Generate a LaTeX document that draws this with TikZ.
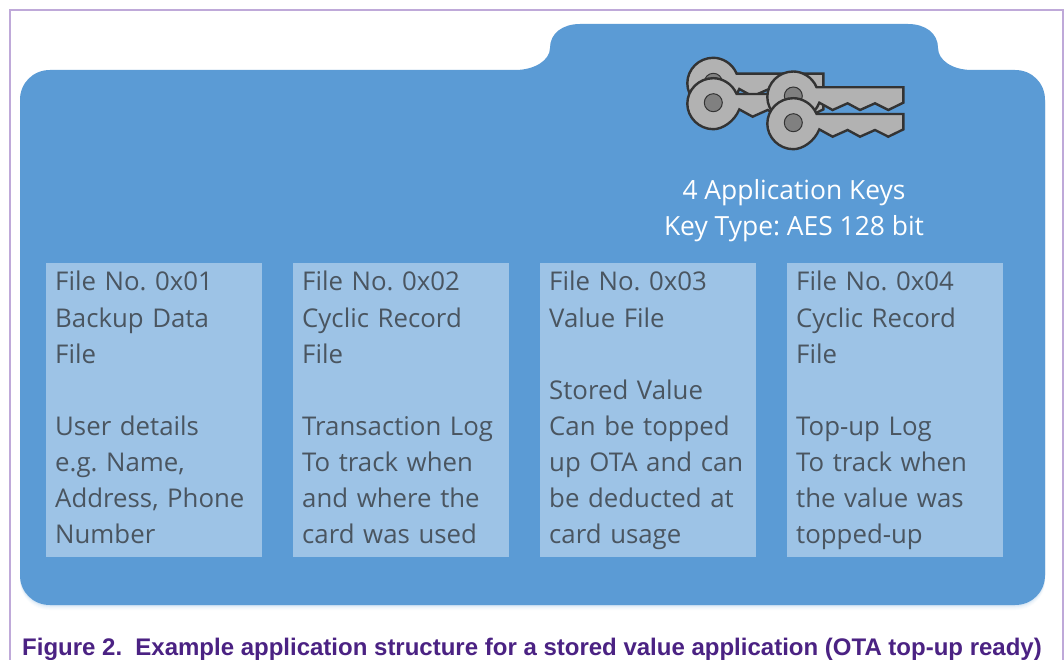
\documentclass[tikz,border=0pt]{standalone}
\usepackage{fontspec}
\setmainfont{Open Sans}
\newfontfamily\capfont{Liberation Sans}
\definecolor{framec}{HTML}{BFA9D9}
\definecolor{blueb}{HTML}{5B9BD5}
\definecolor{boxb}{HTML}{9DC3E6}
\definecolor{txtc}{HTML}{4A5560}
\definecolor{capc}{HTML}{4B2283}
\definecolor{keyf}{HTML}{B2B2B2}
\definecolor{keyl}{HTML}{333333}
\definecolor{keyh}{HTML}{808080}
\tikzset{
  x=1pt,y=-1pt,
  filebox/.style={anchor=north west,fill=boxb,text=txtc,minimum width=216,minimum height=294,
    text width=198,inner xsep=9,inner ysep=0,align=left,font=\frenchspacing\fontsize{25.8}{36.14}\selectfont},
  keypart/.style={draw=keyl,line width=2.4pt,line join=miter,fill=keyf},
  keyhole/.style={draw=keyl,line width=1pt,fill=keyh},
  pics/keyshape/.style={code={
    \path[keypart] (23.3,-8.7) -- (110,-8.7) -- (110,6.7) -- (95,14) -- (81.7,7.3) -- (66.7,14) -- (54.3,7.3)
      -- (39.3,14) -- (26,6.7) .. controls (21,19) and (9,26.5) .. (0,26.5)
      .. controls (-14.5,26.5) and (-26,14.5) .. (-26,1)
      .. controls (-26,-13) and (-14.5,-24.5) .. (0,-24.5)
      .. controls (9,-24.5) and (19,-19) .. (23.3,-8.7) -- cycle;
    \path[keyhole] (0,0) circle[radius=9];
  }}
}
\newcommand{\tabshape}{(20,100) .. controls (20,83) and (33,70) .. (50,70) -- (515,70)
  .. controls (535,70) and (550,60) .. (550,48) .. controls (550,33) and (563,24) .. (580,24) -- (908,24)
  .. controls (925,24) and (938,33) .. (938,48) .. controls (938,60) and (952,70) .. (972,70) -- (1015,70)
  .. controls (1032,70) and (1045,83) .. (1045,100) -- (1045,575)
  .. controls (1045,592) and (1032,605) .. (1015,605) -- (50,605)
  .. controls (33,605) and (20,592) .. (20,575) -- cycle}
\begin{document}
\begin{tikzpicture}
\useasboundingbox (0,0) rectangle (1064,660);
\fill[white] (0,0) rectangle (1064,660);
\draw[framec,line width=1.3pt] (10,660) -- (10,10) -- (1063,10) -- (1063,660);
\foreach \d/\c in {5/97,4/94,3/90,2/84,1/76}{
  \fill[shift={(0,\d)},white!\c!blueb] \tabshape;
}
\fill[blueb] \tabshape;
\pic at (713.3,82.3) {keyshape};
\pic at (713.3,102.7) {keyshape};
\pic at (793.3,96) {keyshape};
\pic at (793.3,122.7) {keyshape};
\node[text=white,align=center,font=\frenchspacing\fontsize{26.4}{36}\selectfont] (keys) at (794,210) {\strut 4 Application Keys\\Key Type: AES 128 bit\strut};
\node[filebox] (f1) at (46,263) {\strut File No. 0x01\\Backup Data\\File\\~\\User details\\e.g. Name,\\Address, Phone\\Number\strut};
\node[filebox] (f2) at (293,263) {\strut File No. 0x02\\Cyclic Record\\File\\~\\Transaction Log\\To track when\\and where the\\card was used\strut};
\node[filebox] (f3) at (540,263) {\strut File No. 0x03\\Value File\\~\\Stored Value\\Can be topped\\up OTA and can\\be deducted at\\card usage\strut};
\node[filebox] (f4) at (787,263) {\strut File No. 0x04\\Cyclic Record\\File\\~\\Top-up Log\\To track when\\the value was\\topped-up\strut};
\node[anchor=base west,inner sep=0,text=capc,font=\capfont\bfseries\fontsize{24}{28}\selectfont] (cap) at (22,655) {Figure 2.\hspace{0.55em}Example application structure for a stored value application (OTA top-up ready)};
\end{tikzpicture}
\end{document}
